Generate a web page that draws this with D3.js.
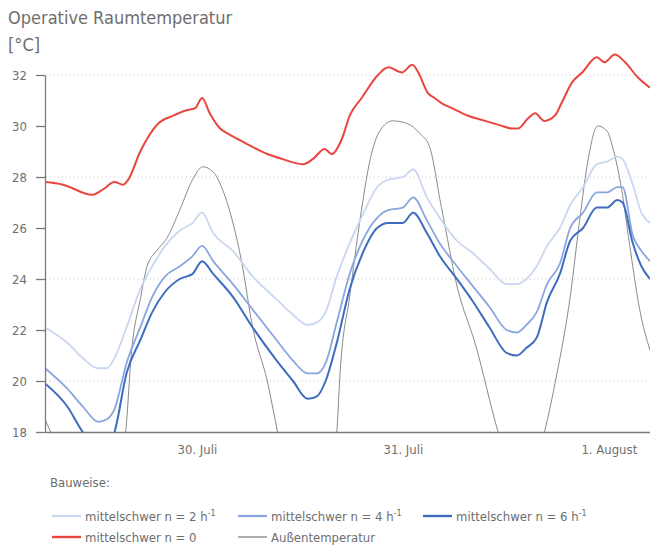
<!DOCTYPE html>
<html>
<head>
<meta charset="utf-8">
<script src="https://cdn.jsdelivr.net/npm/d3@7"></script>
<style>
  body { margin: 0; background: #fff; }
  text { font-family: "Liberation Sans Narrow", "DejaVu Sans Condensed", sans-serif; fill: #6e6e6e; }
</style>
</head>
<body>
<svg id="chart" width="650" height="547"></svg>
<script>
// hours relative to 30. Juli 0:00
const blueHours = [-5.7, -3.1, -1.3, 0.5, 1.5, 2.4, 3.8, 5.4, 6.8, 8.3, 10.0, 11.5, 12.6, 13.9, 16.2, 18.5,
  21.3, 23.2, 24.9, 26.0, 27.0, 28.3, 29.8, 31.3, 33.0, 34.3, 36.0, 37.2, 38.8, 40.3, 42.3, 44.2,
  46.1, 48.1, 49.3, 50.4, 51.6, 52.8, 54.3, 55.5, 57.0, 58.6, 59.8, 61.0, 61.6, 62.8, 63.8, 64.8];
const n2 = [22.1, 21.5, 20.9, 20.5, 20.5, 20.9, 22.1, 23.6, 24.5, 25.3, 25.9, 26.2, 26.6, 25.8, 25.1, 24.1,
  23.2, 22.6, 22.2, 22.3, 22.7, 24.1, 25.4, 26.5, 27.6, 27.9, 28.0, 28.3, 27.2, 26.4, 25.5, 25.0,
  24.4, 23.8, 23.8, 24.0, 24.5, 25.3, 26.0, 26.9, 27.6, 28.5, 28.6, 28.8, 28.7, 27.7, 26.6, 26.2];
const n4 = [20.5, 19.7, 19.0, 18.4, 18.5, 18.9, 20.7, 22.1, 23.3, 24.1, 24.5, 24.9, 25.3, 24.7, 23.8, 22.8,
  21.6, 20.8, 20.3, 20.3, 20.7, 22.3, 24.2, 25.5, 26.4, 26.7, 26.8, 27.2, 26.3, 25.4, 24.5, 23.7,
  22.9, 22.0, 21.9, 22.2, 22.7, 23.8, 24.6, 26.0, 26.6, 27.4, 27.4, 27.6, 27.6, 25.7, 25.1, 24.7];
const n6 = [19.9, 19.0, 18.0, 17.4, 17.4, 18.0, 20.3, 21.6, 22.7, 23.5, 24.0, 24.2, 24.7, 24.2, 23.3, 22.1,
  20.8, 20.0, 19.3, 19.4, 20.0, 21.5, 23.6, 25.0, 26.0, 26.2, 26.2, 26.6, 25.8, 24.9, 24.0, 23.1,
  22.1, 21.1, 21.0, 21.3, 21.7, 23.1, 24.2, 25.5, 26.0, 26.8, 26.8, 27.1, 27.0, 25.4, 24.5, 24.0];

const redHours = [-5.7, -3.6, -0.2, 1.0, 2.4, 3.4, 4.0, 5.4, 7.5, 9.2, 10.6, 11.8, 12.6, 13.5, 14.7, 15.6,
  16.7, 17.8, 20.2, 22.0, 24.4, 25.5, 26.9, 27.7, 28.9, 29.8, 31.2, 33.1, 34.3, 35.9, 37.1, 37.8,
  38.9, 39.7, 40.5, 41.7, 43.6, 45.6, 47.6, 48.7, 49.4, 50.6, 51.4, 52.5, 53.7, 54.5, 55.7, 56.9,
  58.6, 59.5, 60.7, 61.9, 63.4, 64.8];
const n0 = [27.8, 27.7, 27.3, 27.5, 27.8, 27.7, 27.9, 29.0, 30.1, 30.4, 30.6, 30.7, 31.1, 30.5, 29.9, 29.7,
  29.5, 29.3, 28.9, 28.7, 28.5, 28.7, 29.1, 28.9, 29.5, 30.4, 31.1, 32.0, 32.3, 32.1, 32.4, 32.1,
  31.3, 31.1, 30.9, 30.7, 30.4, 30.2, 30.0, 29.9, 29.9, 30.3, 30.5, 30.2, 30.4, 30.9, 31.7, 32.1,
  32.7, 32.5, 32.8, 32.5, 31.9, 31.5];

const outHours = [-5.7, -4.5, -0.7, 2.8, 3.7, 4.4, 5.4, 6.2, 7.3, 8.5, 10.0, 11.5, 12.7, 13.9, 15.0, 16.2,
  17.2, 18.5, 20.2, 21.4, 22.8, 24.8, 27.5, 28.3, 28.7, 29.8, 31.0, 32.2, 33.3, 34.8, 36.5, 38.0,
  39.1, 40.5, 42.4, 44.4, 47.1, 49.6, 52.5, 53.9, 55.5, 56.6, 57.6, 58.7, 59.8, 60.5, 61.5, 62.4,
  63.6, 64.8];
const outdoor = [18.5, 17.6, 14.8, 16.5, 18.0, 21.2, 23.2, 24.5, 25.1, 25.6, 26.7, 27.9, 28.4, 28.2, 27.5, 26.2,
  24.7, 22.1, 20.0, 18.0, 15.8, 14.6, 16.4, 18.0, 20.4, 23.3, 26.3, 28.7, 29.8, 30.2, 30.1, 29.7,
  29.2, 26.8, 23.6, 21.5, 18.0, 15.5, 18.0, 20.2, 23.3, 26.3, 28.7, 30.0, 29.8, 29.1, 27.5, 25.4,
  22.8, 21.2];

const yTicks = [18, 20, 22, 24, 26, 28, 30, 32];
const gridTicks = [20, 24, 28, 32];
const dayHours = [12, 36, 60];
const dayLabels = ["30. Juli", "31. Juli", "1. August"];

const legendNames = ["mittelschwer n = 2 h", "mittelschwer n = 4 h", "mittelschwer n = 6 h", "mittelschwer n = 0", "Außentemperatur"];
const legendSup = ["-1", "-1", "-1", "", ""];

const svg = d3.select("#chart");

const x = d3.scaleLinear().domain([-5.7, 64.8]).range([45, 650]);
const y = d3.scaleLinear().domain([18, 32]).range([432, 75]);

// title
svg.append("text").attr("x", 8).attr("y", 24).attr("font-size", 18).text("Operative Raumtemperatur");
svg.append("text").attr("x", 8).attr("y", 51).attr("font-size", 18).text("[°C]");

// dotted grid
svg.append("g").selectAll("line")
  .data(gridTicks)
  .enter().append("line")
  .attr("x1", 46).attr("x2", 650)
  .attr("y1", d => y(d)).attr("y2", d => y(d))
  .attr("stroke", "#c8c8c8")
  .attr("stroke-width", 1.2)
  .attr("stroke-dasharray", "1,3");

svg.append("clipPath").attr("id", "plot")
  .append("rect").attr("x", 45).attr("y", 40).attr("width", 605).attr("height", 392);

const series = [
  { t: outHours, v: outdoor, color: "#8a8a8a", w: 1 },
  { t: blueHours, v: n2, color: "#c9d7f0", w: 1.8 },
  { t: blueHours, v: n4, color: "#8aa6e0", w: 1.8 },
  { t: blueHours, v: n6, color: "#3f6cc0", w: 2 },
  { t: redHours, v: n0, color: "#e8463e", w: 2 }
];

const line = d3.line()
  .x(d => x(d[0]))
  .y(d => y(d[1]))
  .curve(d3.curveMonotoneX);

svg.append("g").attr("clip-path", "url(#plot)")
  .selectAll("path")
  .data(series)
  .enter().append("path")
  .attr("d", s => line(d3.zip(s.t, s.v)))
  .attr("fill", "none")
  .attr("stroke", s => s.color)
  .attr("stroke-width", s => s.w)
  .attr("stroke-linejoin", "round");

// y axis
const yAxis = svg.append("g")
  .attr("transform", "translate(45,0)")
  .call(d3.axisLeft(y).tickValues(yTicks).tickSize(9).tickSizeOuter(0).tickPadding(9));
yAxis.select(".domain").attr("stroke", "#7a7a7a").attr("stroke-width", 1.3);
yAxis.selectAll(".tick line").attr("stroke", "#7a7a7a").attr("stroke-width", 1.3);
yAxis.selectAll(".tick text").attr("font-size", 13).attr("font-family", null).style("fill", "#6e6e6e");

// x axis
const xAxis = svg.append("g")
  .attr("transform", "translate(0,432)")
  .call(d3.axisBottom(x).tickValues(dayHours).tickFormat((d, i) => dayLabels[i]).tickSize(0).tickSizeOuter(0).tickPadding(13));
xAxis.select(".domain").attr("stroke", "#7a7a7a").attr("stroke-width", 1.5);
xAxis.selectAll(".tick text").attr("font-size", 13).attr("font-family", null).style("fill", "#6e6e6e");

// legend
svg.append("text").attr("x", 50).attr("y", 487).attr("font-size", 13).text("Bauweise:");

const legendPos = [[52, 516], [238, 516], [423, 516], [52, 537], [238, 537]];
const legend = svg.append("g").selectAll("g")
  .data(series.slice(1).concat(series.slice(0, 1)).map((s, i) => ({ s: s, i: i })))
  .enter().append("g")
  .attr("transform", d => `translate(${legendPos[d.i][0]},${legendPos[d.i][1]})`);

legend.append("line")
  .attr("x1", 0).attr("x2", 29)
  .attr("stroke", d => d.s.color)
  .attr("stroke-width", d => d.s.w + 0.4);

const lt = legend.append("text")
  .attr("x", 33).attr("y", 5)
  .attr("font-size", 13);
lt.append("tspan").text(d => legendNames[d.i]);
lt.append("tspan")
  .attr("dy", -5).attr("font-size", 9)
  .text(d => legendSup[d.i]);
</script>
</body>
</html>
